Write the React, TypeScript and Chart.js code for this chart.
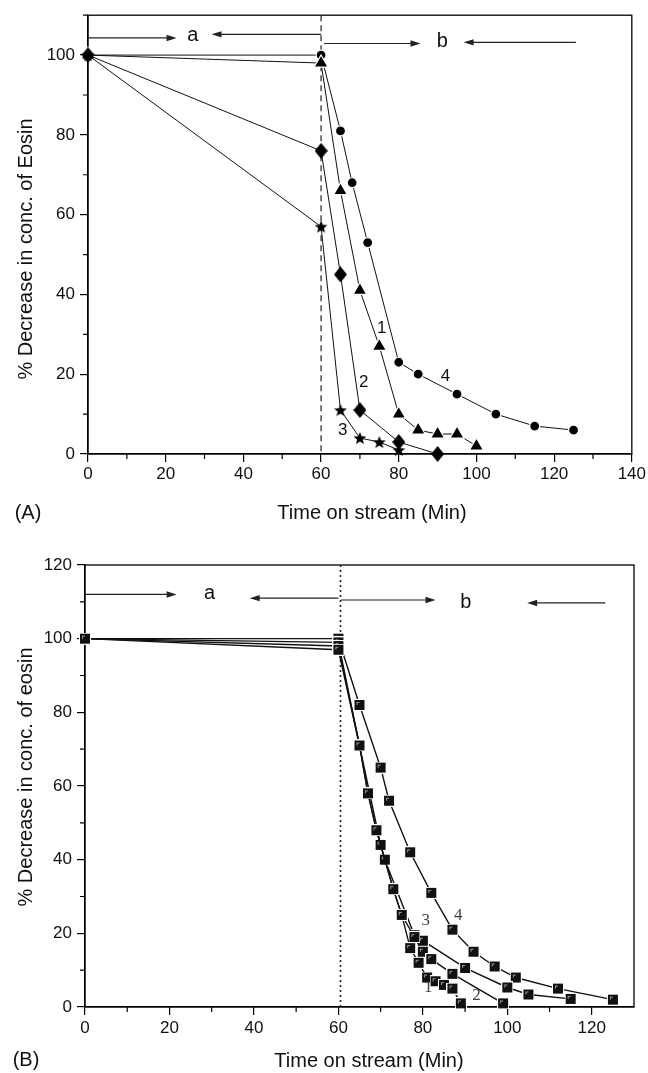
import React, { useEffect, useRef } from 'react';
import { Chart, registerables } from 'chart.js';

Chart.register(...registerables);

const SANS = '"Liberation Sans", Arial, Helvetica, sans-serif';
const SERIF = '"Liberation Serif", "Times New Roman", serif';

// ---------------- Panel A data ----------------
const A_X_TICKS = [0, 20, 40, 60, 80, 100, 120, 140];
const A_Y_TICKS = [0, 20, 40, 60, 80, 100];
const A_T1 = [0, 60, 65, 70, 75, 80, 85, 90, 95, 100];
const A_V1 = [100, 98, 66, 41, 27, 10, 6, 5, 5, 2];
const A_T2 = [0, 60, 65, 70, 80, 90];
const A_V2 = [100, 76, 45, 11, 3, 0];
const A_T3 = [0, 60, 65, 70, 75, 80];
const A_V3 = [100, 57, 11, 4, 3, 1];
const A_T4 = [0, 60, 65, 68, 72, 80, 85, 95, 105, 115, 125];
const A_V4 = [100, 100, 81, 68, 53, 23, 20, 15, 10, 7, 6];
const A_CURVE_LABELS = ['1', '2', '3', '4'];
const A_CURVE_LABEL_X = [75.6, 71, 65.6, 92];
const A_CURVE_LABEL_Y = [31.5, 18, 6, 19.6];
const A_ARROW_FROM_X = [0, 60, 60.8, 125.6];
const A_ARROW_TO_X = [22.8, 31.8, 85.6, 96.7];
const A_ARROW_Y = [104.3, 105.2, 102.9, 103.2];
const A_REGION_TEXT = ['a', 'b'];
const A_REGION_X = [27, 91.2];
const A_REGION_Y = [104.8, 103.4];
const A_DIVIDER = 60;

// ---------------- Panel B data ----------------
const B_X_TICKS = [0, 20, 40, 60, 80, 100, 120];
const B_Y_TICKS = [0, 20, 40, 60, 80, 100, 120];
const B_T1 = [0, 60, 65, 67, 69, 73, 75, 77, 79, 81, 83, 85, 87, 89];
const B_V1 = [100, 97, 71, 58, 48, 32, 25, 16, 12, 8, 7, 6, 5, 1];
const B_T2 = [0, 60, 65, 67, 69, 73, 75, 78, 80, 82, 87, 99];
const B_V2 = [100, 98, 71, 58, 48, 32, 25, 19, 15, 13, 9, 1];
const B_T3 = [0, 60, 65, 70, 71, 78, 80, 90, 100, 105, 115];
const B_V3 = [100, 99, 71, 44, 40, 19.5, 18, 10.6, 5.3, 3.4, 2.2];
const B_T4 = [0, 60, 65, 70, 72, 77, 82, 87, 92, 97, 102, 112, 125];
const B_V4 = [100, 100, 82, 65, 56, 42, 31, 21, 15, 11, 8, 5, 2];
const B_CURVE_LABELS = ['1', '2', '3', '4'];
const B_CURVE_LABEL_X = [81.3, 92.7, 80.7, 88.4];
const B_CURVE_LABEL_Y = [5.4, 3.2, 23.6, 24.7];
const B_ARROW_FROM_X = [0, 60, 60.6, 123.2];
const B_ARROW_TO_X = [21.7, 39, 83, 104.7];
const B_ARROW_Y = [112, 111, 110.5, 109.7];
const B_REGION_TEXT = ['a', 'b'];
const B_REGION_X = [29.5, 90.2];
const B_REGION_Y = [112.3, 109.7];
const B_DIVIDER = 60.5;

function pts(t: number[], v: number[]) {
  return t.map((x, i) => ({ x, y: v[i] }));
}

function starImage(size: number) {
  const c = document.createElement('canvas');
  c.width = size;
  c.height = size;
  const g = c.getContext('2d')!;
  const R = size / 2 - 0.3;
  const r = R * 0.45;
  const cx = size / 2;
  const cy = size / 2 + 0.6;
  g.beginPath();
  for (let i = 0; i < 10; i++) {
    const ang = -Math.PI / 2 + (i * Math.PI) / 5;
    const rr = i % 2 === 0 ? R : r;
    const px = cx + rr * Math.cos(ang);
    const py = cy + rr * Math.sin(ang);
    if (i === 0) g.moveTo(px, py);
    else g.lineTo(px, py);
  }
  g.closePath();
  g.fillStyle = '#000';
  g.fill();
  return c;
}

function diamondImage(w: number, h: number) {
  const c = document.createElement('canvas');
  c.width = w;
  c.height = h;
  const g = c.getContext('2d')!;
  g.beginPath();
  g.moveTo(w / 2, 0);
  g.lineTo(w, h / 2);
  g.lineTo(w / 2, h);
  g.lineTo(0, h / 2);
  g.closePath();
  g.fillStyle = '#000';
  g.fill();
  return c;
}

function squareImage(s: number) {
  const c = document.createElement('canvas');
  c.width = s;
  c.height = s;
  const g = c.getContext('2d')!;
  g.fillStyle = '#fff';
  g.fillRect(0, 0, s, s);
  g.fillStyle = '#111';
  g.fillRect(1, 1, s - 2, s - 2);
  g.strokeStyle = '#9a9a9a';
  g.lineWidth = 1;
  g.beginPath();
  g.moveTo(3.5, 3);
  g.lineTo(3.5, 6);
  g.moveTo(3, 3.5);
  g.lineTo(6, 3.5);
  g.stroke();
  return c;
}

type PanelCfg = {
  xMax: number;
  yMax: number;
  xTicks: number[];
  yTicks: number[];
  yAxisWidth: number;
  xAxisHeight: number;
  padTop: number;
  padRight: number;
  tickPadX: number;
  divider: number;
  dividerDash: number[];
  dividerWidth: number;
  arrowsFrom: number[];
  arrowsTo: number[];
  arrowsY: number[];
  regionText: string[];
  regionX: number[];
  regionY: number[];
  curveLabels: string[];
  curveLabelX: number[];
  curveLabelY: number[];
  curveFont: string;
  curveColor: string;
  yTitle: string;
  xTitle: string;
  panelTag: string;
  yTitleX: number;
  yTitleY: number;
  xTitleX: number;
  xTitleY: number;
  tagX: number;
  tagY: number;
};

function decorPlugin(cfg: PanelCfg) {
  return {
    id: 'decor',
    beforeDatasetsDraw(chart: any) {
      const { ctx, chartArea } = chart;
      const xs = chart.scales.x;
      const ys = chart.scales.y;
      ctx.save();
      ctx.strokeStyle = '#000';
      ctx.lineWidth = 1.3;
      ctx.strokeRect(chartArea.left, chartArea.top, chartArea.right - chartArea.left, chartArea.bottom - chartArea.top);
      const dx = xs.getPixelForValue(cfg.divider);
      ctx.setLineDash(cfg.dividerDash);
      ctx.lineWidth = cfg.dividerWidth;
      ctx.strokeStyle = '#222';
      ctx.beginPath();
      ctx.moveTo(dx, chartArea.top);
      ctx.lineTo(dx, chartArea.bottom);
      ctx.stroke();
      ctx.setLineDash([]);
      ctx.strokeStyle = '#222';
      ctx.fillStyle = '#222';
      ctx.lineWidth = 1.2;
      cfg.arrowsFrom.forEach((fx, i) => {
        const x0 = xs.getPixelForValue(fx);
        const x1 = xs.getPixelForValue(cfg.arrowsTo[i]);
        const y = ys.getPixelForValue(cfg.arrowsY[i]);
        const dir = x1 > x0 ? 1 : -1;
        ctx.beginPath();
        ctx.moveTo(x0, y);
        ctx.lineTo(x1 - dir * 6, y);
        ctx.stroke();
        ctx.beginPath();
        ctx.moveTo(x1, y);
        ctx.lineTo(x1 - dir * 10, y - 3.2);
        ctx.lineTo(x1 - dir * 10, y + 3.2);
        ctx.closePath();
        ctx.fill();
      });
      ctx.font = `20px ${SANS}`;
      ctx.fillStyle = '#111';
      ctx.textAlign = 'center';
      ctx.textBaseline = 'middle';
      cfg.regionText.forEach((t, i) => {
        ctx.fillText(t, xs.getPixelForValue(cfg.regionX[i]), ys.getPixelForValue(cfg.regionY[i]));
      });
      ctx.restore();
    },
    afterDraw(chart: any) {
      const { ctx, chartArea } = chart;
      const xs = chart.scales.x;
      const ys = chart.scales.y;
      ctx.save();
      ctx.strokeStyle = '#000';
      ctx.lineWidth = 1.2;
      ctx.beginPath();
      for (let v = 10; v < cfg.xMax; v += 20) {
        const px = xs.getPixelForValue(v);
        ctx.moveTo(px, chartArea.bottom);
        ctx.lineTo(px, chartArea.bottom + 5);
      }
      for (let v = 10; v < cfg.yMax + 0.01; v += 20) {
        const py = ys.getPixelForValue(v);
        ctx.moveTo(chartArea.left, py);
        ctx.lineTo(chartArea.left - 5, py);
      }
      ctx.stroke();
      ctx.font = cfg.curveFont;
      ctx.fillStyle = cfg.curveColor;
      ctx.textAlign = 'center';
      ctx.textBaseline = 'middle';
      cfg.curveLabels.forEach((t, i) => {
        ctx.fillText(t, xs.getPixelForValue(cfg.curveLabelX[i]), ys.getPixelForValue(cfg.curveLabelY[i]));
      });
      ctx.fillStyle = '#111';
      ctx.font = `20px ${SANS}`;
      ctx.fillText(cfg.xTitle, cfg.xTitleX, cfg.xTitleY);
      ctx.fillText(cfg.panelTag, cfg.tagX, cfg.tagY);
      ctx.save();
      ctx.translate(cfg.yTitleX, cfg.yTitleY);
      ctx.rotate(-Math.PI / 2);
      ctx.fillText(cfg.yTitle, 0, 0);
      ctx.restore();
      ctx.restore();
    },
  };
}

function buildOptions(cfg: PanelCfg): any {
  return {
    responsive: false,
    animation: false,
    devicePixelRatio: 1,
    layout: { padding: { top: cfg.padTop, right: cfg.padRight, left: 0, bottom: 0 } },
    plugins: { legend: { display: false }, tooltip: { enabled: false }, title: { display: false } },
    scales: {
      x: {
        type: 'linear',
        min: 0,
        max: cfg.xMax,
        afterBuildTicks: (s: any) => {
          s.ticks = cfg.xTicks.map((value) => ({ value }));
        },
        afterFit: (s: any) => {
          s.height = cfg.xAxisHeight;
        },
        grid: { display: true, drawOnChartArea: false, drawTicks: true, tickLength: 8, color: '#000', lineWidth: 1.2 },
        border: { display: true, color: '#000', width: 1.3 },
        ticks: {
          color: '#111',
          font: { family: SANS, size: 17 },
          padding: cfg.tickPadX,
          maxRotation: 0,
          autoSkip: false,
        },
      },
      y: {
        type: 'linear',
        min: 0,
        max: cfg.yMax,
        afterBuildTicks: (s: any) => {
          s.ticks = cfg.yTicks.map((value) => ({ value }));
        },
        afterFit: (s: any) => {
          s.width = cfg.yAxisWidth;
        },
        grid: { display: true, drawOnChartArea: false, drawTicks: true, tickLength: 8, color: '#000', lineWidth: 1.2 },
        border: { display: true, color: '#000', width: 1.3 },
        ticks: {
          color: '#111',
          font: { family: SANS, size: 17 },
          padding: 5,
          autoSkip: false,
        },
      },
    },
  };
}

export default function App() {
  const refA = useRef<HTMLCanvasElement>(null);
  const refB = useRef<HTMLCanvasElement>(null);

  useEffect(() => {
    const star = starImage(14);
    const diamond = diamondImage(13, 16);
    const square = squareImage(12);

    const base = {
      showLine: true,
      borderColor: '#111',
      tension: 0,
      clip: false as any,
      pointBackgroundColor: '#000',
    };

    const cfgA: PanelCfg = {
      xMax: 140,
      yMax: 110,
      xTicks: A_X_TICKS,
      yTicks: A_Y_TICKS,
      yAxisWidth: 88,
      xAxisHeight: 76,
      padTop: 15,
      padRight: 16,
      tickPadX: 2,
      divider: A_DIVIDER,
      dividerDash: [6, 4],
      dividerWidth: 1.2,
      arrowsFrom: A_ARROW_FROM_X,
      arrowsTo: A_ARROW_TO_X,
      arrowsY: A_ARROW_Y,
      regionText: A_REGION_TEXT,
      regionX: A_REGION_X,
      regionY: A_REGION_Y,
      curveLabels: A_CURVE_LABELS,
      curveLabelX: A_CURVE_LABEL_X,
      curveLabelY: A_CURVE_LABEL_Y,
      curveFont: `17px ${SANS}`,
      curveColor: '#111',
      yTitle: '% Decrease in conc. of Eosin',
      xTitle: 'Time on stream (Min)',
      panelTag: '(A)',
      yTitleX: 26,
      yTitleY: 249,
      xTitleX: 372,
      xTitleY: 513,
      tagX: 28,
      tagY: 513,
    };

    const cfgB: PanelCfg = {
      xMax: 130,
      yMax: 120,
      xTicks: B_X_TICKS,
      yTicks: B_Y_TICKS,
      yAxisWidth: 85,
      xAxisHeight: 66,
      padTop: 35,
      padRight: 14,
      tickPadX: 3,
      divider: B_DIVIDER,
      dividerDash: [2, 3],
      dividerWidth: 1.6,
      arrowsFrom: B_ARROW_FROM_X,
      arrowsTo: B_ARROW_TO_X,
      arrowsY: B_ARROW_Y,
      regionText: B_REGION_TEXT,
      regionX: B_REGION_X,
      regionY: B_REGION_Y,
      curveLabels: B_CURVE_LABELS,
      curveLabelX: B_CURVE_LABEL_X,
      curveLabelY: B_CURVE_LABEL_Y,
      curveFont: `17px ${SERIF}`,
      curveColor: '#444',
      yTitle: '% Decrease in conc. of eosin',
      xTitle: 'Time on stream (Min)',
      panelTag: '(B)',
      yTitleX: 26,
      yTitleY: 247,
      xTitleX: 369,
      xTitleY: 531,
      tagX: 26,
      tagY: 530,
    };

    const chartA = new Chart(refA.current!, {
      type: 'line',
      data: {
        datasets: [
          { ...base, data: pts(A_T3, A_V3), borderWidth: 1, pointStyle: star as any, pointRadius: 7 },
          { ...base, data: pts(A_T2, A_V2), borderWidth: 1, pointStyle: diamond as any, pointRadius: 7 },
          {
            ...base,
            data: pts(A_T1, A_V1),
            borderWidth: 1,
            pointStyle: 'triangle',
            pointRadius: 8,
            pointBorderColor: '#fff',
            pointBorderWidth: 1.2,
          },
          {
            ...base,
            data: pts(A_T4, A_V4),
            borderWidth: 1,
            pointStyle: 'circle',
            pointRadius: 5,
            pointBorderColor: '#fff',
            pointBorderWidth: 1.2,
          },
        ] as any,
      },
      options: buildOptions(cfgA),
      plugins: [decorPlugin(cfgA)],
    });

    const chartB = new Chart(refB.current!, {
      type: 'line',
      data: {
        datasets: [B_T1, B_T2, B_T3, B_T4].map((t, i) => ({
          ...base,
          data: pts(t, [B_V1, B_V2, B_V3, B_V4][i]),
          borderWidth: 1.4,
          pointStyle: square as any,
          pointRadius: 6,
        })) as any,
      },
      options: buildOptions(cfgB),
      plugins: [decorPlugin(cfgB)],
    });

    return () => {
      chartA.destroy();
      chartB.destroy();
    };
  }, []);

  return (
    <div style={{ position: 'absolute', left: 0, top: 0, width: 648, height: 1073, background: '#fff' }}>
      <canvas ref={refA} width={648} height={530} style={{ position: 'absolute', left: 0, top: 0, width: 648, height: 530 }} />
      <canvas ref={refB} width={648} height={543} style={{ position: 'absolute', left: 0, top: 530, width: 648, height: 543 }} />
    </div>
  );
}
